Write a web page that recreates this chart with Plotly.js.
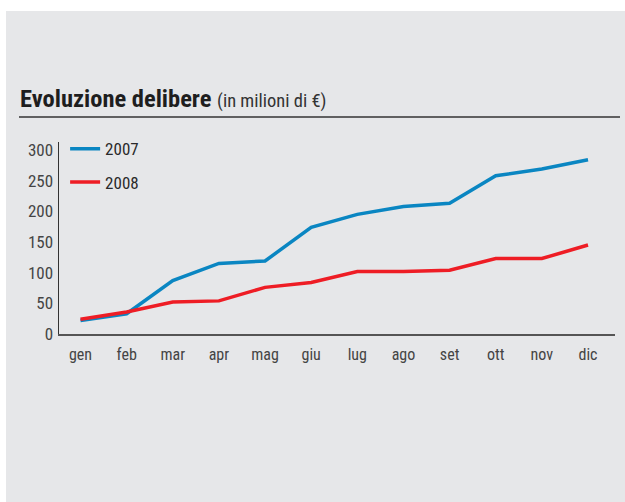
<!DOCTYPE html>
<html>
<head>
<meta charset="utf-8">
<script src="https://cdn.plot.ly/plotly-3.0.1.min.js"></script>
<style>
  html, body { margin:0; padding:0; background:#ffffff; width:625px; height:502px; overflow:hidden; }
  #chart { position:absolute; left:6px; top:11px; width:619px; height:491px; }
</style>
</head>
<body>
<div id="chart"></div>
<script>
const months = ["gen","feb","mar","apr","mag","giu","lug","ago","set","ott","nov","dic"];
const values2007 = [22, 33, 87, 115, 119, 174, 195, 208, 213, 258, 269, 284];
const values2008 = [24, 36, 52, 54, 76, 84, 102, 102, 104, 123, 123, 145];
const seriesNames = ["2007", "2008"];
const yTicks = [0, 50, 100, 150, 200, 250, 300];

const FONT = "'Liberation Sans Narrow', 'Arial Narrow', 'Roboto Condensed', 'Liberation Sans', sans-serif";

const traces = [
  { x: months, y: values2007, name: seriesNames[0], type: "scatter", mode: "lines",
    line: { color: "#0a86c2", width: 3.5 }, legendgroup: "a" },
  { x: months, y: values2008, name: seriesNames[1], type: "scatter", mode: "lines",
    line: { color: "#ee1d25", width: 3.5 }, legendgroup: "b" }
];

const layout = {
  width: 619, height: 491,
  paper_bgcolor: "#e6e7e9", plot_bgcolor: "rgba(0,0,0,0)",
  margin: { l: 53, r: 10, t: 131, b: 168, pad: 0 },
  font: { family: FONT, size: 16, color: "#444444" },
  showlegend: true,
  legend: {
    x: 0.011, y: 1.056, xanchor: "left", yanchor: "top",
    bgcolor: "rgba(0,0,0,0)", borderwidth: 0,
    traceorder: "grouped", tracegroupgap: 8,
    font: { family: FONT, size: 17, color: "#2a2a2a" },
    itemwidth: 30
  },
  xaxis: {
    type: "category", range: [-0.466, 11.585],
    showline: true, linecolor: "#555555", linewidth: 2,
    showgrid: false, zeroline: false, ticks: "",
    ticklabelstandoff: 5,
    tickfont: { family: FONT, size: 16, color: "#444444" }
  },
  yaxis: {
    range: [0, 313], tickvals: yTicks, ticktext: yTicks.map(String),
    showline: true, linecolor: "#333333", linewidth: 1.5,
    showgrid: false, zeroline: false, ticks: "",
    ticklabelstandoff: 1,
    tickfont: { family: FONT, size: 17, color: "#444444" }
  },
  annotations: [
    { xref: "paper", yref: "paper", x: (12 - 53) / 556, y: 1 + (131 - 104) / 192,
      xanchor: "left", yanchor: "bottom", showarrow: false,
      text: "<b>Evoluzione delibere</b> <span style='font-size:18.5px;color:#333'>(in milioni di €)</span>",
      font: { family: FONT, size: 24.5, color: "#1e1e1e" } }
  ],
  shapes: [
    { type: "line", xref: "paper", yref: "paper",
      x0: (13 - 53) / 556, x1: (614 - 53) / 556,
      y0: 1 + (131 - 106) / 192, y1: 1 + (131 - 106) / 192,
      line: { color: "#333333", width: 1.5 } }
  ]
};

Plotly.newPlot("chart", traces, layout, { displayModeBar: false, staticPlot: true });
</script>
</body>
</html>
